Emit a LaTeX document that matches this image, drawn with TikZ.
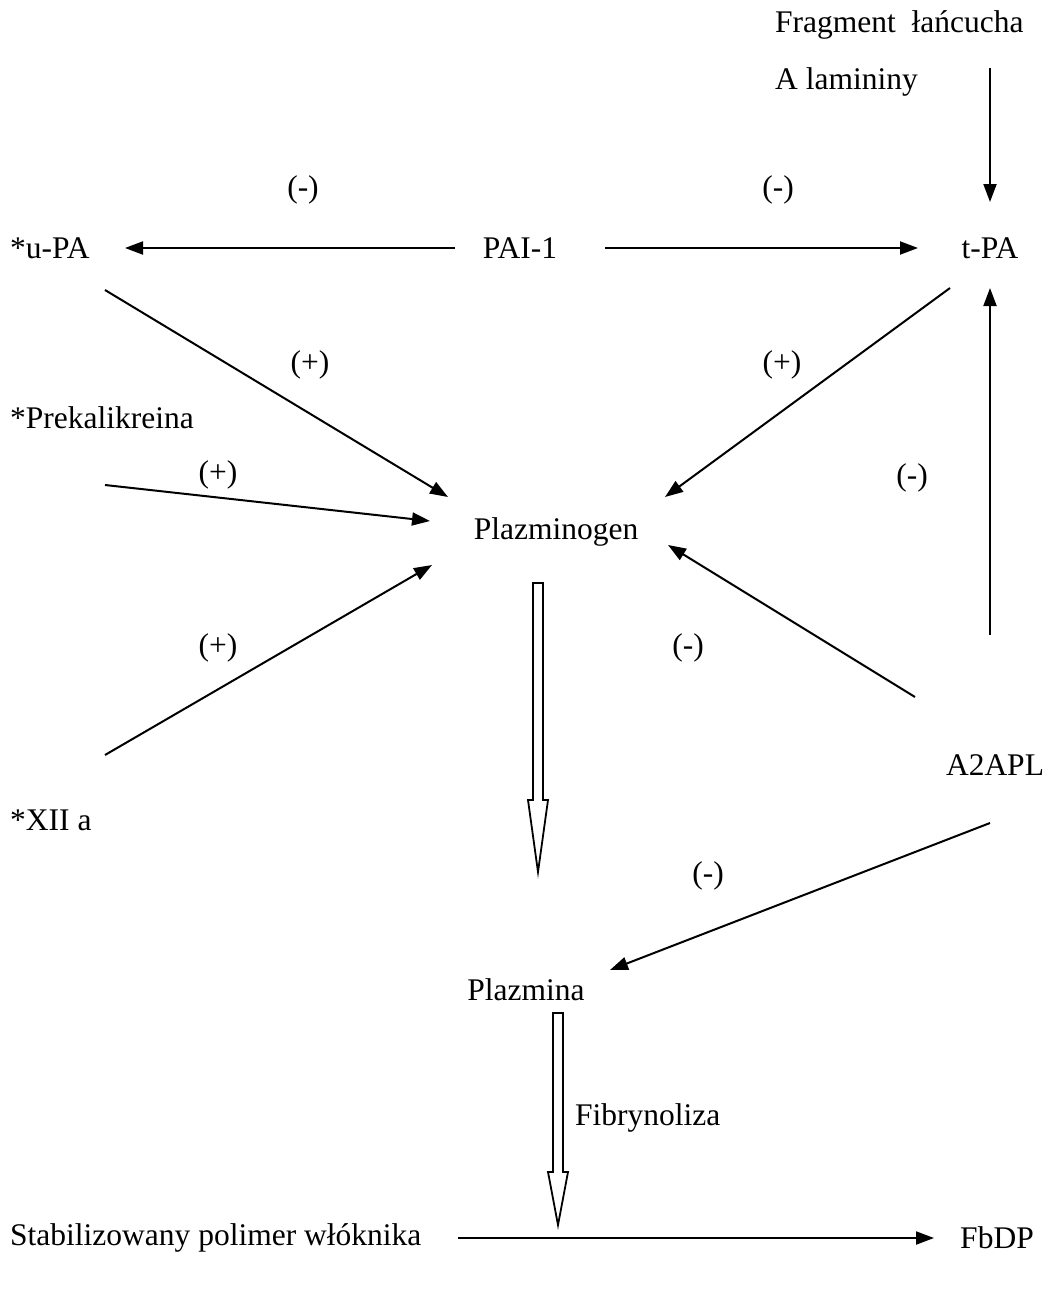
\documentclass[tikz,border=0pt]{standalone}
\usepackage{fontspec}
\setmainfont{Liberation Serif}
\usetikzlibrary{arrows.meta,calc}
\begin{document}
\begin{tikzpicture}[x=1pt,y=-1pt,
  lbl/.style={inner sep=0pt,font=\fontsize{31.5}{37}\selectfont},
  conn/.style={line width=2pt,-{Triangle[length=18pt,width=13pt]}},
  hollow/.style={draw,line width=1.8pt,fill=white,line join=miter}]
\useasboundingbox (0,0) rectangle (1047,1290);
% texts
\node[lbl,anchor=west] (frag) at (775,25) {Fragment\ \ łańcucha};
\node[lbl,anchor=west] (lam) at (775,82) {A lamininy};
\node[lbl] (tpa) at (990,248) {t-PA};
\node[lbl] (pai) at (520,248) {PAI-1};
\node[lbl,anchor=west] (upa) at (10,248) {*u-PA};
\node[lbl,anchor=west] (prek) at (10,418) {*Prekalikreina};
\node[lbl,anchor=west] (xii) at (10,820) {*XII a};
\node[lbl] (pgen) at (556,532) {Plazminogen};
\node[lbl] (a2) at (995,765) {A2APL};
\node[lbl] (pmin) at (526,990) {Plazmina};
\node[lbl,anchor=west] (fib) at (575,1118) {Fibrynoliza};
\node[lbl,anchor=west] (stab) at (10,1238) {Stabilizowany polimer włóknika};
\node[lbl] (fbdp) at (997,1238) {FbDP};
% signs
\node[lbl] (s1) at (303,190) {(-)};
\node[lbl] (s2) at (778,190) {(-)};
\node[lbl] (s3) at (310,365) {(+)};
\node[lbl] (s4) at (782,365) {(+)};
\node[lbl] (s5) at (218,475) {(+)};
\node[lbl] (s6) at (912,478) {(-)};
\node[lbl] (s7) at (218,648) {(+)};
\node[lbl] (s8) at (688,648) {(-)};
\node[lbl] (s9) at (708,876) {(-)};
% connector endpoints
\coordinate (lamE) at (990,68);
\coordinate (tpaN) at (990,202);
\coordinate (paiW) at (455,248);
\coordinate (upaE) at (125,248);
\coordinate (paiE) at (605,248);
\coordinate (tpaW) at (918,248);
\coordinate (upaS) at (105,290);
\coordinate (pgenNW) at (448,497);
\coordinate (prekS) at (105,485);
\coordinate (pgenW) at (430,521);
\coordinate (xiiN) at (105,755);
\coordinate (pgenSW) at (432,565);
\coordinate (tpaSW) at (950,288);
\coordinate (pgenNE) at (665,497);
\coordinate (a2N) at (990,635);
\coordinate (tpaS) at (990,288);
\coordinate (a2NW) at (915,697);
\coordinate (pgenSE) at (668,545);
\coordinate (a2S) at (990,823);
\coordinate (pminE) at (610,970);
\coordinate (stabE) at (458,1238);
\coordinate (fbdpW) at (934,1238);
% connectors
\draw[conn] (lamE) -- (tpaN);
\draw[conn] (paiW) -- (upaE);
\draw[conn] (paiE) -- (tpaW);
\draw[conn] (upaS) -- (pgenNW);
\draw[conn] (prekS) -- (pgenW);
\draw[conn] (xiiN) -- (pgenSW);
\draw[conn] (tpaSW) -- (pgenNE);
\draw[conn] (a2N) -- (tpaS);
\draw[conn] (a2NW) -- (pgenSE);
\draw[conn] (a2S) -- (pminE);
\draw[conn] (stabE) -- (fbdpW);
% hollow arrows
\coordinate (h1t) at (538,583);
\coordinate (h1b) at (538,872);
\draw[hollow] ($(h1t)+(-5,0)$) -- ($(h1t)+(5,0)$) -- ($(h1b)+(5,-72)$) -- ($(h1b)+(10,-72)$) -- (h1b) -- ($(h1b)+(-10,-72)$) -- ($(h1b)+(-5,-72)$) -- cycle;
\coordinate (h2t) at (558,1013);
\coordinate (h2b) at (558,1225);
\draw[hollow] ($(h2t)+(-5,0)$) -- ($(h2t)+(5,0)$) -- ($(h2b)+(5,-53)$) -- ($(h2b)+(10,-53)$) -- (h2b) -- ($(h2b)+(-10,-53)$) -- ($(h2b)+(-5,-53)$) -- cycle;
\end{tikzpicture}
\end{document}
